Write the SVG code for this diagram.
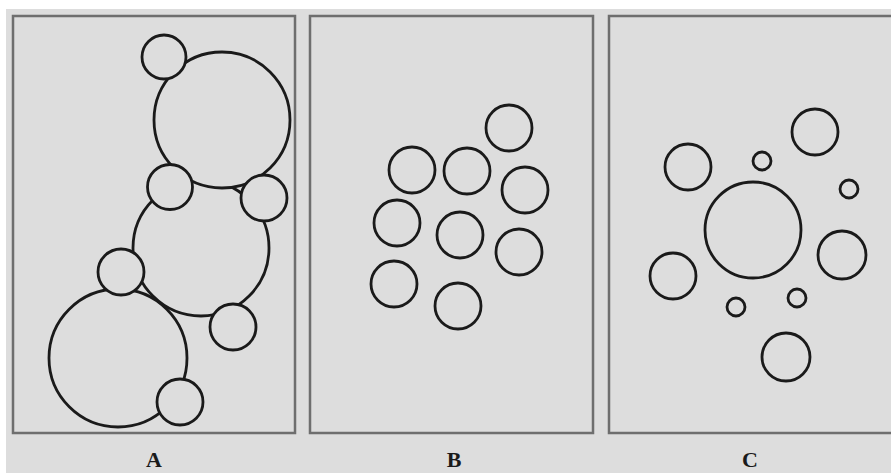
<svg xmlns="http://www.w3.org/2000/svg" width="891" height="473" viewBox="0 0 891 473">
<style>
.bg{fill:#dddddd}
.panel{fill:#dddddd;stroke:#6e6e6e;stroke-width:2.5}
.c{fill:#dddddd;stroke:#1a1a1a;stroke-width:2.8}
.lbl{font-family:"Liberation Serif","Times New Roman",serif;font-weight:bold;font-size:22px;fill:#1a1a1a;text-anchor:middle}
</style>
<rect x="0" y="0" width="891" height="473" fill="#ffffff"/>
<rect class="bg" x="6" y="9" width="885" height="464"/>
<g id="panelA">
<rect class="panel" x="13" y="16" width="282" height="417"/>
<circle class="c" cx="201" cy="248" r="68"/>
<circle class="c" cx="222" cy="120" r="68"/>
<circle class="c" cx="118" cy="358" r="69"/>
<circle class="c" cx="164" cy="57" r="22"/>
<circle class="c" cx="170" cy="187" r="22.5"/>
<circle class="c" cx="264" cy="198" r="23"/>
<circle class="c" cx="121" cy="272" r="23"/>
<circle class="c" cx="233" cy="327" r="23"/>
<circle class="c" cx="180" cy="402" r="23"/>
<text class="lbl" x="154" y="467">A</text>
</g>
<g id="panelB">
<rect class="panel" x="310" y="16" width="283" height="417"/>
<circle class="c" cx="509" cy="128" r="23"/>
<circle class="c" cx="412" cy="170" r="23"/>
<circle class="c" cx="467" cy="171" r="23"/>
<circle class="c" cx="525" cy="190" r="23"/>
<circle class="c" cx="397" cy="223" r="23"/>
<circle class="c" cx="460" cy="235" r="23"/>
<circle class="c" cx="519" cy="252" r="23"/>
<circle class="c" cx="394" cy="284" r="23"/>
<circle class="c" cx="458" cy="306" r="23"/>
<text class="lbl" x="454" y="467">B</text>
</g>
<g id="panelC">
<rect class="panel" x="609" y="16" width="290" height="417"/>
<circle class="c" cx="815" cy="132" r="23"/>
<circle class="c" cx="688" cy="167" r="23"/>
<circle class="c" cx="762" cy="161" r="9"/>
<circle class="c" cx="849" cy="189" r="9"/>
<circle class="c" cx="753" cy="230" r="48"/>
<circle class="c" cx="842" cy="255" r="24"/>
<circle class="c" cx="673" cy="276" r="23"/>
<circle class="c" cx="736" cy="307" r="9"/>
<circle class="c" cx="797" cy="298" r="9"/>
<circle class="c" cx="786" cy="357" r="24"/>
<text class="lbl" x="750" y="467">C</text>
</g>
<g id="connectors"></g>
</svg>
